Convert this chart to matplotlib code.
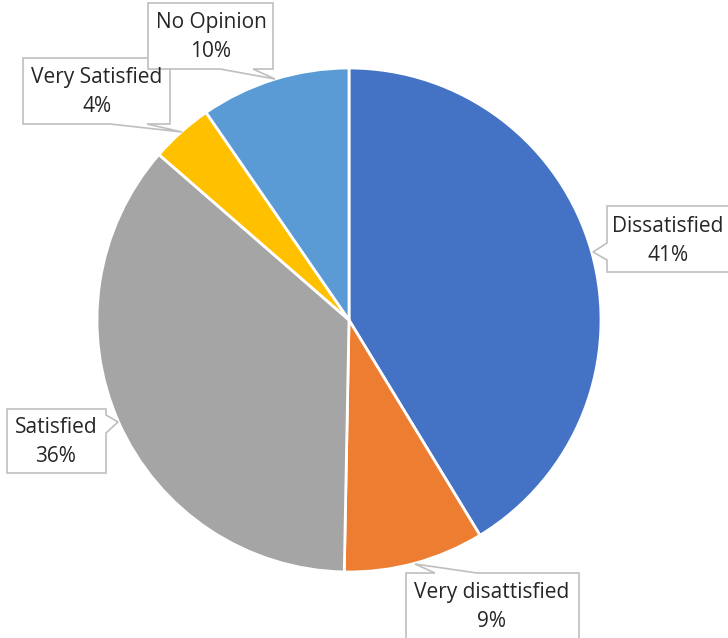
import matplotlib.pyplot as plt
from matplotlib.patches import Polygon

labels = ["Dissatisfied", "Very disattisfied", "Satisfied", "Very Satisfied", "No Opinion"]
values = [41.3, 9.0, 36.1, 4.0, 9.6]
colors = ["#4472C4", "#ED7D31", "#A5A5A5", "#FFC000", "#5B9BD5"]

W, H = 728, 638

# callout layout in image pixels: box (x0, y0, x1, y1), side, pointer (a, tip, b), text centre
callouts = {
    "Dissatisfied": dict(box=(607, 206, 740, 272), side="left",
                         ptr=((607, 243), (593, 252), (607, 260)), text=(668, 241)),
    "Very disattisfied": dict(box=(406, 573, 579, 650), side="top",
                              ptr=((435, 573), (415, 564), (477, 573)), text=(492, 607)),
    "Satisfied": dict(box=(7, 409, 106, 473), side="right",
                      ptr=((106, 415), (118, 422), (106, 433)), text=(56, 442)),
    "Very Satisfied": dict(box=(23, 58, 170, 124), side="bottom",
                           ptr=((147, 124), (182, 132), (110, 124)), text=(97, 92)),
    "No Opinion": dict(box=(148, 3, 273, 69), side="bottom",
                       ptr=((253, 69), (275, 79), (220, 69)), text=(211, 37)),
}


def callout_path(box, side, ptr):
    x0, y0, x1, y1 = box
    a, tip, b = ptr
    if side == "top":
        pts = [(x0, y0), a, tip, b, (x1, y0), (x1, y1), (x0, y1)]
    elif side == "right":
        pts = [(x0, y0), (x1, y0), a, tip, b, (x1, y1), (x0, y1)]
    elif side == "bottom":
        pts = [(x0, y0), (x1, y0), (x1, y1), a, tip, b, (x0, y1)]
    else:
        pts = [(x0, y0), (x1, y0), (x1, y1), (x0, y1), b, tip, a]
    return [(x, H - y) for x, y in pts]


def main():
    fig = plt.figure(figsize=(W / 100, H / 100), dpi=100)
    ax = fig.add_axes([0, 0, 1, 1])
    ax.set_xlim(0, W)
    ax.set_ylim(0, H)
    ax.set_aspect("equal")
    ax.axis("off")

    ax.pie(values, colors=colors, startangle=90, counterclock=False,
           center=(349, H - 320), radius=252,
           wedgeprops=dict(edgecolor="white", linewidth=2))

    for lab, val in zip(labels, values):
        c = callouts[lab]
        poly = Polygon(callout_path(c["box"], c["side"], c["ptr"]), closed=True,
                       facecolor="white", edgecolor="#BFBFBF", linewidth=1.2, zorder=5)
        ax.add_patch(poly)
        tx, ty = c["text"]
        ax.text(tx, H - ty, f"{lab}\n{round(val)}%", ha="center", va="center",
                fontsize=15, family="Open Sans", color="#262626",
                linespacing=1.45, zorder=6)

    ax.set_xlim(0, W)
    ax.set_ylim(0, H)
    fig.savefig("out.png", dpi=100)


if __name__ == "__main__":
    main()
